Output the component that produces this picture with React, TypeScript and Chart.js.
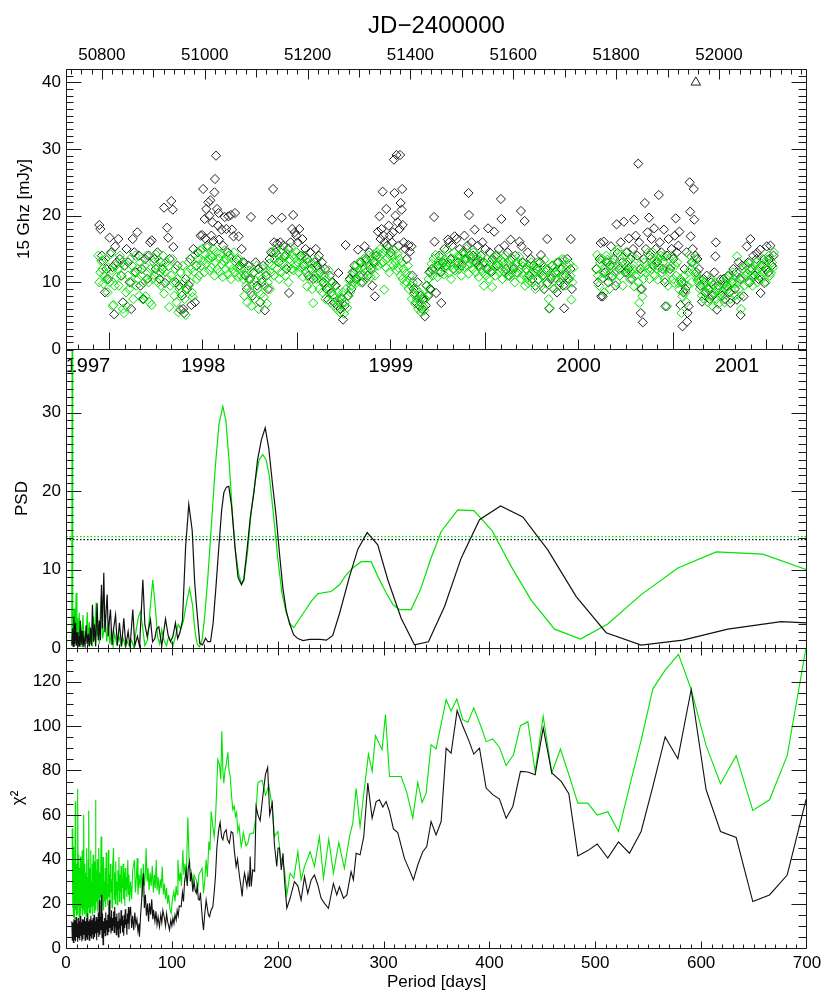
import React, { useEffect, useRef } from 'react';
import { Chart, registerables } from 'chart.js';
Chart.register(...registerables);

const FONT = "'Liberation Sans', Arial, Helvetica, sans-serif";
const GREEN = '#00e400';
const INK = '#1a1a1a';

// ---------- top panel: 15 GHz light curve ----------
const jdTickLabels = [50800, 51000, 51200, 51400, 51600, 51800, 52000];
const yearLabels = ['1997', '1998', '1999', '2000', '2001'];
const yearLabelJD = [50773, 50997, 51362, 51727, 52035];
const fluxTicks = [0, 10, 20, 30, 40];
const flagObs = [[51955, 40]];

const blackFluxObs = [
  [50795,18.6],[50797,18.0],[50800,14.0],[50803,13.2],[50806,8.5],[50809,12.0],[50812,10.5],[50815,16.7],[50818,14.5],[50821,12.3],[50824,5.2],[50826,15.4],[50829,13.0],
  [50832,16.5],[50835,13.5],[50838,11.0],[50841,7.0],[50844,12.5],[50848,15.0],[50851,13.0],[50854,10.0],[50857,6.0],[50860,16.5],[50863,14.5],[50866,11.5],[50869,17.5],[50872,14.0],[50875,9.5],[50878,12.0],[50881,7.5],[50884,13.5],[50888,10.5],[50891,14.0],[50894,16.0],[50897,16.3],
  [50902,13.5],[50905,12.0],[50908,14.5],[50912,10.5],[50915,13.0],[50918,12.0],[50921,21.2],[50923,9.9],[50927,18.2],[50929,16.7],[50932,13.5],[50935,22.2],[50938,20.9],[50939,15.3],[50944,10.0],[50947,12.5],[50950,9.5],[50953,5.9],[50956,8.0],[50958,6.0],[50960,5.4],[50963,10.5],[50966,9.0],[50969,9.6],[50972,13.5],[50974,6.6],[50978,15.0],[50981,7.0],[50984,12.5],[50987,14.5],
  [50992,17.0],[50995,17.1],[50997,24.0],[51000,19.5],[51001,16.6],[51003,21.0],[51005,15.5],[51007,22.0],[51009,20.0],[51011,22.3],[51013,17.0],[51015,19.0],[51017,16.2],[51019,23.5],[51020,25.5],[51022,29.0],[51024,21.0],[51026,18.5],[51027,20.4],[51028,16.4],[51033,17.9],[51036,15.5],[51039,19.8],[51042,18.0],[51045,14.5],[51046,19.9],[51051,20.1],[51053,17.9],[51056,16.9],[51059,20.4],[51062,13.5],[51066,16.9],[51069,12.5],[51072,15.0],
  [51076,13.0],[51079,11.0],[51082,9.0],[51085,12.5],[51088,10.5],[51090,19.8],[51093,8.0],[51096,11.5],[51099,13.0],[51102,9.5],[51105,12.0],[51108,7.0],[51111,10.0],[51114,12.5],[51117,5.8],[51120,11.0],[51123,9.0],[51126,13.5],[51129,14.5],
  [51131,19.4],[51133,24.0],[51135,16.0],[51138,14.5],[51141,15.8],[51144,13.0],[51147,16.0],[51150,19.7],[51153,15.5],[51156,14.0],[51159,12.0],[51162,15.0],[51164,8.4],[51167,16.0],[51170,18.0],[51172,20.1],[51175,17.5],[51178,17.0],[51181,16.0],[51184,18.0],[51187,14.0],[51190,16.5],[51193,12.5],[51196,15.0],[51199,13.5],[51202,11.0],[51205,14.5],[51208,12.0],[51211,10.5],[51214,13.0],
  [51216,15.0],[51219,12.5],[51222,14.0],[51225,11.5],[51228,13.0],[51231,10.0],[51234,12.0],[51237,9.0],[51240,7.4],[51243,11.0],[51246,8.5],[51249,10.0],[51252,7.0],[51255,9.5],[51258,6.5],[51260,11.4],[51264,6.0],[51267,7.5],[51269,4.4],[51272,6.5],[51274,15.6],[51279,8.0],[51282,10.5],[51285,9.0],[51288,11.5],
  [51291,12.5],[51294,10.5],[51298,14.9],[51301,11.0],[51304,13.0],[51307,10.0],[51311,15.4],[51314,13.5],[51317,11.0],[51320,14.5],[51323,12.0],[51326,9.5],[51329,13.0],[51331,7.9],[51334,14.0],[51337,17.6],[51340,19.9],[51342,16.5],[51344,18.0],[51346,23.6],[51348,17.0],[51350,16.0],[51353,21.0],[51355,15.5],[51358,18.5],[51360,17.0],[51362,14.5],[51364,16.0],
  [51366,17.5],[51368,28.4],[51369,23.4],[51371,20.0],[51373,29.1],[51375,19.0],[51377,15.5],[51379,18.0],[51380,29.1],[51381,21.9],[51383,20.9],[51384,24.0],[51385,18.6],[51387,16.0],[51390,15.0],[51393,13.5],[51396,15.6],[51399,14.6],[51402,15.4],[51404,11.0],[51406,9.0],[51408,8.4],[51411,7.0],[51414,10.0],[51417,6.5],[51420,8.0],[51423,6.0],[51425,7.5],[51428,4.9],[51430,6.5],[51432,9.5],[51435,8.0],[51437,11.5],[51439,9.0],
  [51442,12.0],[51446,19.8],[51447,16.1],[51450,8.4],[51453,12.5],[51456,14.0],[51459,11.5],[51460,6.9],[51463,13.0],[51466,15.0],[51469,12.5],[51473,16.4],[51475,16.0],[51478,13.5],[51481,15.5],[51484,12.0],[51486,16.9],[51490,16.5],[51493,13.0],[51496,15.0],[51499,12.5],[51502,14.5],[51505,17.0],[51508,13.5],[51511,15.5],[51513,23.4],[51514,20.1],[51516,14.0],[51519,16.0],
  [51522,14.0],[51525,17.9],[51528,13.0],[51531,15.5],[51534,12.5],[51537,14.0],[51540,16.0],[51543,13.0],[51546,15.0],[51549,12.0],[51551,18.1],[51554,14.5],[51557,11.5],[51560,13.5],[51563,17.6],[51566,14.0],[51569,12.5],[51572,15.0],[51576,22.5],[51577,19.5],[51580,13.0],[51583,15.5],[51586,12.0],[51589,14.5],[51592,11.0],[51595,16.4],[51598,13.5],[51601,12.0],[51604,14.0],[51607,11.5],
  [51612,16.1],[51615,20.7],[51616,15.4],[51619,13.0],[51622,19.2],[51625,12.0],[51628,14.5],[51631,11.0],[51634,13.5],[51637,10.5],[51640,12.5],[51643,9.5],[51646,12.0],[51649,10.5],[51652,13.0],[51654,14.1],[51657,11.0],[51660,9.0],[51663,12.0],[51666,16.5],[51667,9.9],[51670,6.1],[51673,10.5],[51676,12.5],[51679,9.0],[51682,11.5],[51685,8.5],[51688,13.0],[51691,10.0],[51694,12.0],[51697,9.5],[51699,6.1],[51702,11.0],[51705,13.5],[51708,10.5],[51711,12.0],[51712,16.5],[51714,9.0],
  [51762,12.0],[51765,10.0],[51768,13.5],[51770,15.9],[51771,7.9],[51774,7.9],[51776,16.1],[51779,11.5],[51782,13.0],[51785,10.0],[51788,12.5],[51790,15.4],[51793,11.0],[51796,13.5],[51799,9.5],[51801,18.7],[51803,14.4],[51806,12.0],[51809,16.0],[51812,13.0],[51815,19.1],[51818,11.5],[51821,14.5],[51824,12.0],[51825,16.6],[51828,13.5],[51831,10.5],[51833,15.0],[51835,19.4],[51838,17.0],
  [51841,14.0],[51843,27.8],[51845,16.0],[51847,12.0],[51848,5.4],[51850,9.0],[51852,4.0],[51854,13.5],[51856,21.9],[51858,15.0],[51861,17.5],[51864,19.7],[51866,14.0],[51869,16.5],[51872,12.5],[51874,18.1],[51877,15.0],[51880,13.0],[51883,23.1],[51885,16.0],[51888,14.5],[51891,12.0],[51893,17.9],[51895,10.0],[51896,6.4],[51899,14.0],[51902,16.5],[51905,12.0],[51908,15.0],[51911,13.5],[51914,17.0],[51916,19.6],[51918,14.5],
  [51921,15.5],[51923,17.6],[51925,6.6],[51927,10.0],[51929,3.4],[51931,8.5],[51933,12.0],[51935,9.0],[51937,14.5],[51938,4.1],[51939,5.4],[51941,6.4],[51943,25.0],[51944,20.6],[51945,16.9],[51947,13.0],[51949,15.0],[51951,24.0],[51952,19.4],[51954,14.0],[51956,11.5],[51958,13.5],
  [51961,12.0],[51964,9.5],[51967,7.1],[51970,10.5],[51973,8.5],[51976,11.0],[51979,9.0],[51982,7.5],[51985,10.0],[51988,8.0],[51991,11.5],[51993,13.9],[51994,16.0],[51996,5.9],[51999,9.5],[52003,10.4],[52006,8.0],[52009,10.5],[52012,7.5],[52015,9.5],[52018,11.0],[52021,8.5],[52022,6.9],[52025,10.0],[52028,12.0],[52031,9.0],[52034,11.5],[52035,7.4],[52038,13.0],[52041,10.5],[52042,5.1],[52045,12.5],[52048,7.9],[52051,11.0],[52054,15.4],[52057,13.0],[52060,10.0],[52061,16.5],[52064,12.0],[52067,14.0],[52070,11.0],[52073,13.5],[52074,14.4],[52077,10.5],[52080,14.9],[52081,8.4],[52084,12.5],[52087,13.4],[52088,9.9],[52091,12.0],[52093,15.4],[52096,11.5],[52098,13.5],[52100,15.5],[52103,12.5],[52106,14.0]
];

const greenFluxObs = [
  [50793,14.0],[50795,10.0],[50797,11.5],[50799,13.2],[50801,12.0],[50803,9.8],[50805,11.0],[50807,13.5],[50809,10.5],[50811,8.5],[50813,12.2],[50815,10.0],[50817,14.2],[50819,11.8],[50821,6.5],[50823,6.6],[50825,9.5],[50827,12.5],[50829,10.8],
  [50831,12.0],[50833,9.5],[50835,14.0],[50837,11.0],[50839,13.0],[50841,6.0],[50843,5.4],[50845,12.5],[50847,8.5],[50849,6.4],[50851,11.0],[50853,9.0],[50855,13.5],[50857,10.0],[50859,12.5],[50861,7.5],[50863,11.5],[50865,14.0],[50867,9.5],[50869,12.0],[50871,10.5],[50873,8.0],[50875,13.0],[50877,11.0],[50879,7.5],[50881,9.9],[50883,12.5],[50885,7.9],[50887,14.0],[50889,11.5],[50891,10.0],[50893,7.0],[50895,12.0],[50897,6.6],[50899,10.5],
  [50901,13.0],[50903,11.0],[50905,14.2],[50907,12.5],[50909,10.0],[50911,13.3],[50913,11.5],[50915,9.5],[50917,12.0],[50919,14.0],[50921,8.3],[50923,11.6],[50925,13.0],[50927,10.5],[50929,12.4],[50931,6.3],[50933,9.5],[50935,11.0],[50937,13.5],[50939,10.0],[50941,8.0],[50943,12.0],[50945,7.0],[50947,10.5],[50949,5.5],[50951,9.0],[50953,11.5],[50955,8.5],[50957,12.5],[50959,10.0],[50961,7.5],[50963,5.1],[50965,9.0],[50967,11.5],[50969,13.0],[50971,10.0],[50973,12.0],[50975,8.5],[50977,7.8],[50979,11.6],[50981,14.1],[50983,12.5],[50985,10.5],[50987,13.5],[50989,11.0],
  [50991,14.8],[50993,12.5],[50995,15.0],[50997,13.2],[50999,11.5],[51001,14.2],[51003,12.8],[51005,15.2],[51007,13.5],[51009,11.8],[51011,14.0],[51013,12.2],[51015,13.8],[51017,15.0],[51019,11.0],[51021,13.0],[51023,14.5],[51025,12.0],[51027,13.6],[51029,11.5],[51031,14.3],[51033,12.7],[51035,10.8],[51037,13.2],[51039,14.8],[51041,12.0],[51043,13.5],[51045,11.2],[51047,14.0],[51049,12.5],[51051,10.5],[51053,13.8],[51055,12.0],[51057,14.5],[51059,11.5],[51061,13.0],[51063,12.2],[51065,10.8],[51067,13.5],[51069,12.0],[51071,11.0],[51073,13.0],
  [51075,10.5],[51077,8.0],[51079,12.0],[51081,9.5],[51083,7.0],[51085,10.5],[51087,11.8],[51089,8.5],[51091,6.5],[51093,9.8],[51095,11.5],[51097,7.5],[51099,10.2],[51101,12.5],[51103,9.0],[51105,6.0],[51107,11.0],[51109,8.2],[51111,10.5],[51113,12.0],[51115,7.8],[51117,9.5],[51119,11.5],[51121,6.8],[51123,10.0],[51125,12.8],[51127,9.0],[51129,11.5],
  [51131,12.5],[51133,14.5],[51135,11.0],[51137,13.5],[51139,15.0],[51141,12.0],[51143,14.0],[51145,10.5],[51147,13.2],[51149,11.5],[51151,14.8],[51153,12.8],[51155,13.8],[51157,11.0],[51159,14.2],[51161,12.4],[51163,10.0],[51165,13.5],[51167,15.2],[51169,12.0],[51171,14.0],[51173,11.8],[51175,13.6],[51177,12.5],[51179,14.5],[51181,13.0],[51183,11.5],[51185,14.0],[51187,12.2],[51189,13.5],[51191,10.8],[51193,12.8],[51195,14.0],[51197,11.5],[51199,9.4],[51201,13.0],[51203,12.0],[51205,10.5],[51207,12.8],[51209,9.0],[51211,6.9],[51213,11.0],
  [51215,12.3],[51217,10.5],[51219,13.5],[51221,11.3],[51223,9.0],[51225,12.0],[51227,10.2],[51229,8.5],[51231,11.0],[51233,9.8],[51235,7.5],[51237,10.5],[51239,8.8],[51241,11.8],[51243,9.1],[51245,7.0],[51247,10.0],[51249,8.0],[51251,6.5],[51253,9.5],[51255,7.8],[51257,6.0],[51259,8.5],[51261,7.2],[51263,5.5],[51265,7.8],[51267,6.8],[51269,8.5],[51271,5.3],[51273,7.0],[51275,9.0],[51277,6.2],[51279,7.9],[51281,10.3],[51283,8.5],[51285,9.5],[51287,11.0],[51289,10.0],
  [51291,11.5],[51293,9.8],[51295,12.5],[51297,10.5],[51299,11.8],[51301,13.0],[51303,10.0],[51305,12.2],[51307,11.0],[51309,13.5],[51311,12.0],[51313,10.5],[51315,13.2],[51317,11.8],[51319,14.0],[51321,12.5],[51323,10.8],[51325,13.5],[51327,12.0],[51329,14.2],[51331,11.0],[51333,13.0],[51335,14.5],[51337,12.5],[51339,13.8],[51341,15.0],[51343,12.8],[51345,14.3],[51347,13.0],[51349,8.9],[51351,14.8],[51353,12.2],[51355,13.6],[51357,15.2],[51359,11.5],[51361,14.0],[51363,12.8],
  [51365,14.0],[51367,12.5],[51369,14.8],[51371,13.0],[51373,11.8],[51375,14.3],[51377,12.2],[51379,13.5],[51381,11.0],[51383,13.0],[51385,10.5],[51387,12.0],[51389,9.8],[51391,11.3],[51393,10.0],[51395,12.5],[51397,9.0],[51399,11.0],[51401,9.5],[51403,7.5],[51405,10.0],[51407,8.2],[51409,6.8],[51411,9.0],[51413,7.5],[51415,6.0],[51417,8.5],[51419,7.0],[51421,5.5],[51423,7.8],[51425,6.3],[51427,5.8],[51429,7.5],[51431,9.5],[51433,8.0],[51435,10.5],[51437,9.0],[51439,11.5],
  [51441,12.8],[51443,11.0],[51445,13.5],[51447,12.0],[51449,14.1],[51451,12.5],[51453,10.8],[51455,13.2],[51457,11.5],[51459,12.4],[51461,14.0],[51463,12.8],[51465,11.2],[51467,13.4],[51469,12.5],[51471,14.9],[51473,13.0],[51475,11.4],[51477,12.8],[51479,10.5],[51481,13.5],[51483,12.0],[51485,14.5],[51487,11.8],[51489,13.2],[51491,12.5],[51493,14.0],[51495,12.0],[51497,13.8],[51499,11.0],[51501,13.0],[51503,14.2],[51505,12.3],[51507,13.6],[51509,15.0],[51511,12.5],[51513,11.3],[51515,14.0],[51517,12.8],[51519,13.5],
  [51521,12.0],[51523,14.5],[51525,13.0],[51527,11.5],[51529,14.0],[51531,12.5],[51533,10.8],[51535,13.3],[51537,12.0],[51539,14.2],[51541,11.5],[51543,9.5],[51545,12.8],[51547,11.0],[51549,13.5],[51551,12.0],[51553,10.5],[51555,13.0],[51557,11.8],[51559,9.3],[51561,12.5],[51563,13.8],[51565,11.0],[51567,12.4],[51569,14.0],[51571,12.8],[51573,11.5],[51575,13.4],[51577,12.0],[51579,10.5],[51581,13.0],[51583,11.5],[51585,14.0],[51587,12.5],[51589,11.0],[51591,13.2],[51593,12.0],[51595,10.8],[51597,11.4],[51599,13.5],[51601,12.2],[51603,10.0],[51605,12.8],[51607,11.5],[51609,13.0],
  [51611,13.9],[51613,12.0],[51615,10.5],[51617,13.0],[51619,12.4],[51621,11.0],[51623,9.5],[51625,12.0],[51627,10.8],[51629,9.9],[51631,12.5],[51633,11.0],[51635,13.0],[51637,10.0],[51639,12.4],[51641,11.5],[51643,9.0],[51645,11.8],[51647,13.0],[51649,10.5],[51651,12.0],[51653,11.4],[51655,9.5],[51657,12.5],[51659,10.8],[51661,13.4],[51663,11.5],[51665,9.8],[51667,12.0],[51669,7.5],[51671,6.1],[51673,10.9],[51675,12.5],[51677,11.0],[51679,9.0],[51681,12.2],[51683,10.5],[51685,13.0],[51687,11.5],[51689,9.5],[51691,12.0],[51693,10.8],[51695,13.5],[51697,11.0],[51699,13.4],[51701,9.5],[51703,11.9],[51705,12.5],[51707,10.4],[51709,12.8],[51711,11.0],[51713,7.4],[51715,10.0],[51717,12.2],
  [51761,12.0],[51763,14.1],[51765,11.0],[51767,9.5],[51769,12.9],[51771,10.5],[51773,13.5],[51775,11.4],[51777,8.5],[51779,12.0],[51781,14.0],[51783,13.4],[51785,11.0],[51787,9.0],[51789,12.5],[51791,10.8],[51793,13.0],[51795,12.4],[51797,14.5],[51799,11.5],[51801,10.0],[51803,14.9],[51805,12.5],[51807,11.0],[51809,13.5],[51811,12.0],[51813,9.5],[51815,13.9],[51817,12.0],[51819,14.5],[51821,11.5],[51823,13.0],[51825,12.2],[51827,10.5],[51829,11.4],[51831,13.8],[51833,12.0],[51835,9.4],[51837,11.0],[51839,13.5],
  [51841,12.0],[51843,10.0],[51845,6.9],[51847,9.0],[51849,11.5],[51851,7.9],[51853,10.5],[51855,13.0],[51857,11.5],[51859,12.5],[51861,14.4],[51863,12.0],[51865,10.5],[51867,13.5],[51869,12.0],[51871,14.5],[51873,13.4],[51875,11.0],[51877,13.0],[51879,12.0],[51881,10.4],[51883,13.5],[51885,12.2],[51887,14.0],[51889,11.5],[51891,13.0],[51893,13.9],[51895,10.5],[51897,12.0],[51899,6.4],[51901,9.5],[51903,13.5],[51905,11.5],[51907,12.4],[51909,14.0],[51911,10.5],[51913,9.9],[51915,12.5],[51917,11.0],[51919,13.0],
  [51921,9.9],[51923,8.9],[51925,10.5],[51927,5.4],[51929,7.9],[51931,9.9],[51933,11.0],[51935,8.5],[51937,7.0],[51939,9.5],[51941,11.5],[51943,14.1],[51945,12.0],[51947,10.0],[51949,13.0],[51951,11.5],[51953,12.8],[51955,13.5],[51957,11.0],[51959,10.2],
  [51961,10.5],[51963,9.0],[51965,10.4],[51967,8.0],[51969,9.5],[51971,7.5],[51973,10.0],[51975,8.5],[51977,9.4],[51979,7.0],[51981,9.0],[51983,10.5],[51985,8.0],[51987,6.5],[51989,9.5],[51991,8.4],[51993,10.0],[51995,7.5],[51997,9.0],[51999,6.8],[52001,8.5],[52003,7.9],[52005,10.0],[52007,8.5],[52009,9.8],[52011,7.0],[52013,9.0],[52015,10.5],[52017,8.9],[52019,11.0],[52021,9.5],[52023,7.5],[52025,10.0],[52027,11.5],[52029,9.9],[52031,8.0],[52033,11.0],[52035,13.9],[52037,10.0],[52039,9.0],[52041,7.9],[52043,6.0],[52045,10.5],[52047,12.0],[52049,9.5],[52051,11.0],[52053,12.5],[52055,11.4],[52057,10.0],[52059,12.0],[52061,13.0],[52063,11.0],[52065,9.5],[52067,10.9],[52069,12.5],[52071,11.5],[52073,13.0],[52075,10.0],[52077,12.0],[52079,11.0],[52081,12.4],[52083,10.5],[52085,13.5],[52087,11.5],[52089,12.8],[52091,10.0],[52093,13.4],[52095,12.0],[52097,14.0],[52099,11.0],[52101,11.4],[52103,13.0],[52105,12.2],[52107,14.5]
];

// ---------- middle panel: PSD vs period ----------
const psdTicks = [0, 10, 20, 30];
const psdSigBlack = 13.8;
const psdSigGreen = 14.2;
const psdBlack = [
  [5.5,0.3],[6.2,2.5],[6.8,0.2],[7.5,4.0],[8.2,0.5],[9.0,3.2],[9.7,0.3],[10.5,2.0],[11.3,0.1],[12.0,1.5],[12.8,0.2],[13.5,3.5],[14.3,0.4],[15.2,2.2],[16,0.1],[17,1.2],[18,0.3],[19,2.9],[20,0.5],[21,1.8],[22,0.2],[23,2.6],[24,0.3],[25,5.5],[26,0.8],[27,3.0],[28,0.2],[29.4,5.7],[30.5,1.0],[31.5,3.5],[32.5,1.0],[33.5,8.05],[34.5,2.5],[35.7,9.6],[36.8,2.0],[38,5.0],[38.9,6.8],[40,1.5],[41,3.5],[42,4.9],[43.5,0.4],[45,2.5],[46.8,4.2],[48.5,0.3],[50.5,3.2],[52.5,0.2],[54.6,3.8],[56.5,0.3],[58.7,2.1],[60.5,0.1],[63.1,4.9],[65,0.3],[67.5,1.5],[69.5,0.2],[72.6,8.7],[74.5,3.0],[76.7,1.45],[79.8,3.6],[81.8,0.8],[83.9,1.2],[85.5,2.4],[87.7,2.7],[90.5,0.3],[94,3.7],[96.5,1.6],[98.7,0.8],[101,1.5],[103.4,3.2],[105.5,1.2],[107.5,1.9],[110,3.5],[113,12.9],[116,18.3],[119.2,15],[121.5,8.5],[123.3,5.3],[126.4,0.6],[129,0.4],[131.8,1.25],[134,0.8],[136.5,0.8],[139,3.2],[141.5,7.5],[144.4,12.9],[147,17.5],[149.1,19.8],[151.5,20.5],[153.8,20.6],[156.5,18.0],[159.5,13.0],[162.5,9.0],[165.8,8.05],[168,8.8],[171,12.5],[174,16.5],[177.5,19.8],[181,24],[184.5,26.5],[188.2,28.05],[191.5,25.5],[195,21.0],[198.5,16.8],[201.7,12],[205,7.5],[208,4.8],[211.1,3.15],[215,1.7],[219,1.2],[224,0.95],[230,1.1],[240,1.1],[246,1.0],[252,1.6],[258.4,4.4],[267.8,9.1],[275.7,12.6],[284.5,14.7],[294.5,13.15],[304,8.7],[316.6,3.8],[329.2,0.4],[342.4,0.8],[357.6,5.3],[373.3,11.45],[390.6,16.35],[410.5,18.1],[431.5,16.7],[455.1,12.5],[482,6.55],[510.3,1.95],[543.4,0.38],[582.7,1.0],[625.2,2.4],[675.6,3.35],[699.2,3.2]
];
const psdGreen = [
  [5.5,0.5],[5.85,45],[6.1,1.0],[6.5,3.5],[7.0,0.3],[7.6,5.0],[8.2,0.2],[8.8,2.5],[9.6,7.0],[10.3,0.5],[11,3.8],[11.8,0.3],[12.5,4.5],[13.3,0.2],[14,3.0],[15,0.6],[16,4.2],[17,0.2],[18,2.2],[19,0.8],[20,4.6],[21,0.3],[22,3.3],[23,0.5],[24,2.5],[25,0.2],[26,4.0],[27,1.0],[28.5,5.8],[29.5,1.5],[30.5,3.0],[31.5,0.5],[32.5,4.5],[33.2,6.6],[34.5,1.2],[35.5,2.0],[37,4.0],[38.5,0.8],[40,3.0],[41.5,0.5],[43,2.5],[44.5,0.2],[46,1.8],[48,0.5],[50,1.5],[52,0.3],[54,1.2],[56,0.2],[58,0.8],[60,0.2],[62,1.0],[64,0.1],[66.5,2.5],[68.5,4.0],[70.4,4.65],[72.5,2.5],[74.5,0.3],[77,1.0],[79.5,5.0],[82,8.7],[84.5,5.0],[86.5,1.5],[88.5,0.5],[90.5,2.3],[92.5,1.0],[95,0.3],[97,1.5],[99,0.8],[101,0.3],[103.5,1.5],[106,3.0],[108.5,2.4],[111,3.5],[113.5,5.5],[116.7,7.6],[119.5,5.5],[122,2.0],[124,0.5],[126,0.15],[128.5,1.0],[131,4.0],[134,9.0],[137.5,16],[141,23],[144.5,28.5],[148.1,30.8],[151,29],[154,24],[157,17.5],[160,12.5],[163,9.5],[165.8,8.2],[168,8.5],[171.7,12.5],[175,17.5],[179,21.5],[182.5,24],[185.9,24.65],[189,24.0],[192,22],[196,17],[200,11.5],[204,7.0],[208,4.5],[212,3.0],[215.2,2.6],[220,3.6],[225.3,4.65],[232,6.0],[237.9,6.9],[245,7.1],[250.5,7.2],[258.4,8.05],[264,9.2],[270.9,10.2],[278.9,11.0],[288.3,11.0],[295,9.0],[302.5,7.0],[309,5.5],[315,4.9],[326,4.9],[335,7.5],[345,11.5],[354.4,14.85],[370.1,17.6],[385.3,17.5],[402.3,15],[420.5,10.4],[439.4,6.1],[461.5,2.4],[486,1.15],[511.8,3.05],[543.4,6.8],[578,10.2],[614.2,12.25],[658.2,11.95],[699.2,10.0]
];

// ---------- bottom panel: chi^2 vs period ----------
const periodTicks = [0, 100, 200, 300, 400, 500, 600, 700];
const chiTicks = [0, 20, 40, 60, 80, 100, 120];
const chiBlack = [
  [5.5,12.0],[6.0,3.5],[6.5,11.5],[7.0,2.5],[7.5,13.0],[8.0,4.0],[8.5,12.5],[9.0,3.0],[9.5,14.0],[10.0,5.0],[10.5,11.0],[11.0,2.8],[11.5,13.5],[12.0,4.5],[12.5,12.0],[13.0,3.5],[13.5,14.5],[14.0,5.5],[14.5,11.5],[15.0,3.0],[15.5,13.0],[16.0,4.0],[16.5,12.5],[17.0,6.0],[17.5,14.0],[18.0,3.5],[18.5,12.0],[19.0,5.0],[19.5,13.5],[20.0,4.0],[20.5,15.5],[21.0,6.0],[21.5,12.0],[22.0,3.5],[22.5,13.0],[23.0,5.5],[23.5,14.5],[24.0,4.5],[24.5,12.5],[25.0,6.5],[25.5,13.5],[26.0,4.0],[26.5,15.0],[27.0,5.0],[27.5,12.0],[28.0,6.5],[28.5,14.0],[29.0,3.5],[29.5,13.0],[30.0,7.0],[30.5,16.0],[31.0,5.0],[31.5,21.5],[32.0,6.0],[32.5,14.0],[33.0,8.0],[33.5,24.0],[34.0,4.5],[34.5,15.5],[35.0,1.5],[35.5,12.0],[36.0,7.0],[36.5,13.5],[37.0,5.5],[37.5,16.0],[38.0,8.5],[38.5,12.5],[39.0,6.0],[39.5,15.0],[40.0,7.5],[40.5,18.0],[41.0,21.5],[41.5,9.0],[42.0,14.0],[42.5,6.5],[43.0,17.0],[43.5,8.0],[44.0,13.5],[44.5,10.0],[45.0,16.5],[45.5,7.0],[46.0,18.5],[46.5,9.5],[47.0,14.0],[47.5,6.0],[48.0,15.5],[48.5,8.5],[49.0,12.0],[49.5,5.0],[50.0,16.0],[50.5,9.0],[51.0,13.0],[51.5,6.5],[52.0,17.0],[52.5,10.0],[53.0,14.5],[53.5,7.0],[54.0,12.5],[54.5,5.5],[55.0,15.0],[55.5,9.0],[56.0,17.5],[56.5,10.5],[57.0,13.0],[57.5,6.0],[58.0,15.5],[58.5,11.0],[59.0,18.5],[59.5,8.5],[60.0,14.0],
  [61,18.6],[62,9.0],[63,14.5],[64,8.0],[65,16.0],[66,10.5],[67,13.0],[68,7.5],[69,11.0],[69.4,5.1],[70.5,15.0],[71.5,22.0],[72.5,30.0],[73.2,33.7],[74,18.0],[75,24.0],[76,14.5],[77,20.0],[78,12.0],[78.9,20.2],[80,15.0],[81,22.0],[82,13.0],[82.7,17.2],[84,12.0],[85,16.5],[86,10.5],[87,14.0],[88.3,9.6],[89.5,15.0],[90.5,11.5],[91.5,17.0],[93,13.4],[94,10.0],[95,15.5],[96,12.0],[97.8,8.1],[99,12.5],[100,10.0],[101,13.5],[102,11.0],[103,15.0],[104.1,12.6],[105,17.0],[106,14.5],[107,19.0],[108.8,18.6],[110,25.0],[111,21.0],[112,30.0],[113.5,35.2],[114.5,28.0],[115.5,36.0],[116.7,39.0],[117.5,30.0],[118.5,34.0],[119.8,25.4],[121,30.0],[122,26.0],[123,24.7],[124,28.0],[125,22.0],[126.1,21.6],[127,25.0],[128,18.0],[129,12.0],[129.9,8.1],[131,15.0],[132.4,21.6],[133.5,18.0],[134.5,15.0],[135.6,14.1],[137,17.0],[138.7,18.6],[140,25.0],[141.2,32.2],[142.5,45.0],[143.4,49.5],[144.5,54.0],[145.6,56.6],[147,50.0],[148.2,48.8],[149.5,52.0],[151.3,53.3],[152.5,49.0],[154.4,47.2],[156,52.5],[157.6,51.8],[159,44.0],[160.7,36.7],[162,40.0],[163.9,32.2],[165.2,28.0],[166.4,23.2],[167.5,30.0],[168.7,33.7],[170,30.0],[170.9,27.7],[172,33.0],[173.3,27.6],[174,41.2],[175,27.7],[176.4,35.2],[178.2,34.5],[179.6,63.8],[181.3,60.0],[183.4,57.4],[185.9,68.3],[188.4,78.1],[190.5,81.4],[192.4,60.0],[194.9,65.3],[196.9,46.5],[199.1,36.7],[200.3,45.0],[201.6,45.0],[203.4,35.2],[205,42.7],[206.4,30.7],[208.6,17.9],[211.7,22.4],[215.8,29.9],[219,28.0],[222.1,21.6],[225.3,32.2],[228.4,24.6],[231.6,30.7],[234.7,32.9],[237.9,28.4],[241,22.4],[244.2,20.1],[247.9,17.9],[252.6,29.1],[255.8,23.9],[258.3,27.6],[262.1,22.4],[265.3,23.9],[269.3,34.4],[271.5,30.7],[274.1,42.7],[277.8,42.0],[281.3,50.2],[285.1,74.3],[289.2,58.5],[293,66.0],[296.1,66.8],[299.3,63.5],[302.4,66.0],[305.6,61.5],[309.3,53.7],[313.4,52.0],[319.7,40.4],[324.4,35.2],[328.2,30.7],[332.3,37.4],[337,43.4],[340.8,45.7],[344.9,57.0],[349.6,51.0],[354.4,57.0],[359.1,90.0],[363.8,87.8],[369.5,107.0],[374.9,99.9],[380.2,93.9],[385.2,87.4],[390.6,90.1],[396.9,72.1],[403.2,69.1],[409.5,67.1],[415.8,58.5],[422.1,63.8],[429.3,79.6],[436.3,79.3],[443.2,78.1],[450.8,99.2],[458.9,78.9],[467.8,75.1],[475,69.5],[483.5,41.5],[492.9,43.9],[501.8,46.9],[511.8,40.5],[521.9,47.8],[532.3,42.7],[543.3,52.5],[554.4,72.8],[566,95.1],[578,85.3],[590.6,116.5],[604.7,71.3],[618.3,52.5],[633.1,49.8],[648.8,20.9],[664.6,23.9],[681.3,32.9],[699.2,67.1]
];
const chiGreen = [
  [5.8,54.0],[6.2,18.0],[6.6,40.0],[7.0,14.0],[7.3,45.7],[7.7,16.0],[8.0,35.0],[8.4,13.0],[8.8,66.0],[9.2,17.0],[9.6,38.0],[10.0,14.5],[10.4,30.0],[10.8,15.0],[11.2,71.6],[11.6,19.0],[12.0,42.0],[12.4,14.0],[12.8,36.0],[13.2,16.5],[13.7,41.2],[14.1,15.0],[14.5,33.0],[14.9,18.0],[15.3,44.0],[15.7,14.5],[16.1,30.0],[16.5,17.0],[16.9,60.0],[17.3,15.5],[17.7,38.0],[18.1,19.0],[18.5,34.0],[18.9,14.0],[19.3,45.0],[19.7,17.5],[20.1,32.0],[20.5,15.0],[20.9,40.0],[21.3,18.0],[21.6,62.0],[22.0,16.0],[22.4,36.0],[22.8,20.0],[23.2,44.0],[23.6,15.5],[24.0,30.0],[24.4,18.5],[24.8,38.0],[25.2,14.5],[25.6,42.0],[26.0,19.0],[26.4,33.0],[26.8,16.0],[27.2,39.0],[27.6,20.0],[27.9,66.8],[28.3,17.0],[28.7,35.0],[29.1,21.0],[29.5,40.0],[29.9,16.5],[30.3,31.0],[30.7,22.0],[31.1,45.0],[31.5,18.0],[31.9,34.0],[32.3,23.0],[32.8,37.0],[33.2,50.3],[33.6,19.0],[34.0,32.0],[34.5,24.0],[35.0,41.0],[35.5,17.0],[36.0,30.0],[36.5,21.0],[37.0,36.0],[37.5,18.5],[38.0,43.0],[38.5,22.0],[39.0,29.0],[39.5,19.0],[40.0,44.2],[40.5,23.0],[41.0,33.0],[41.5,20.0],[42.0,38.0],[42.5,25.0],[43.0,31.0],[43.5,18.0],[44.0,36.0],[44.9,45.0],[45.5,22.0],[46.0,34.0],[46.5,20.0],[47.0,39.0],[47.5,24.0],[48.0,30.0],[48.5,19.5],[49.0,35.0],[49.5,26.0],[50.0,41.0],[50.5,21.0],[51.0,33.0],[51.5,25.0],[52.0,37.0],[52.5,20.0],[53.0,31.0],[53.5,27.0],[54.0,38.0],[54.5,22.0],[55.0,34.0],[55.5,19.0],[56.0,36.0],[56.5,26.0],[57.0,32.0],[57.5,23.0],[58.4,39.7],[59.0,24.0],[59.5,33.0],[60.0,21.0],
  [61,30.0],[62,22.0],[63,35.0],[64.7,39.7],[65.5,25.0],[66.5,32.0],[67.2,40.5],[68,24.0],[69,33.0],[70,27.0],[71,36.0],[72,23.0],[73,38.0],[74,28.0],[75,34.0],[75.7,45.0],[76.7,30.0],[77.5,36.0],[78.5,26.0],[79.5,34.0],[80.5,28.0],[81.5,37.0],[82.5,25.0],[83.5,33.0],[84.3,27.0],[85.2,39.7],[86,26.0],[87,32.0],[88,24.0],[89,31.0],[90,27.0],[90.9,36.7],[92,24.0],[93,29.0],[94,22.0],[95,27.0],[96,20.0],[97,24.0],[98,18.0],[99.3,15.6],[100.5,22.0],[101.9,25.4],[103,21.0],[104,28.0],[105,24.0],[105.7,39.7],[107,30.0],[108,34.0],[109,28.0],[110.4,44.2],[111.3,33.0],[112.5,38.0],[113.5,30.0],[115.1,58.8],[116.5,36.0],[118.2,35.2],[119.5,28.0],[121,33.0],[123,30.7],[124.5,26.0],[125.5,33.0],[127.7,35.2],[128.6,36.0],[129.9,24.7],[131,30.0],[132.4,39.7],[133.5,32.0],[135,48.0],[136,44.0],[137.1,61.6],[138.7,54.8],[140,50.0],[141.2,57.8],[142.2,70.0],[143.4,84.9],[145,82.6],[146.2,76.0],[147.2,97.7],[148.2,80.0],[149.1,74.3],[150.2,80.0],[151.3,82.6],[152.9,88.2],[154,80.0],[155.1,77.3],[156.5,68.0],[157.6,62.3],[158.9,64.0],[160.1,59.3],[161.2,61.0],[162.3,52.5],[163.5,55.0],[164.5,50.0],[165.5,45.7],[166.5,48.0],[167.5,52.0],[168.6,49.5],[170,46.0],[171.8,47.2],[173.3,51.0],[174.9,51.8],[177.1,51.7],[179,58.0],[181.2,74.3],[183,75.0],[185.3,75.5],[188.4,69.0],[189.5,70.0],[191.6,73.5],[194.7,63.8],[196.9,50.2],[200.1,52.5],[202.6,41.2],[204.8,38.2],[206.5,35.0],[208.6,23.9],[211.7,33.7],[215.2,31.4],[219,43.4],[222.1,30.7],[225.3,36.7],[230.6,43.4],[234.7,36.7],[239.4,50.2],[243.2,31.4],[248.2,49.0],[252.6,33.7],[257.7,47.5],[263,35.9],[267.8,50.2],[270.9,56.2],[274.1,72.0],[277.8,54.7],[281,68.3],[285.7,87.4],[289.2,79.6],[292.3,95.7],[298.6,89.4],[301.8,105.2],[305.6,77.3],[316.6,77.3],[322,70.0],[327.6,58.5],[332.3,74.6],[336.4,65.6],[340.2,69.8],[344.9,91.6],[349.6,89.7],[359.1,111.9],[363.8,106.7],[369.2,112.2],[374.8,102.9],[379.6,101.7],[385.2,108.2],[392.2,99.6],[396.9,93.0],[403.2,94.2],[409.5,90.4],[415.8,82.2],[422.7,87.1],[429.3,100.2],[436.3,102.0],[443.2,79.6],[450.8,104.4],[458.9,78.9],[467.1,89.7],[475.6,77.3],[483.5,65.3],[492.9,65.3],[501.8,59.9],[511.8,61.4],[521.9,52.5],[533.9,75.8],[543.3,93.6],[554.4,116.8],[566,125.2],[578.6,132.3],[590.6,116.5],[604.7,91.2],[618.3,74.0],[633.1,86.7],[648.8,62.0],[664.6,66.8],[681.3,86.7],[699.2,135.7]
];

// ---------- helpers ----------
const pts = (arr: number[][]) => arr.map(([x, y]) => ({ x, y }));
const range = (a: number, b: number, s: number) => { const o: number[] = []; for (let v = a; v <= b + 1e-9; v += s) o.push(v); return o; };
const monthJD = (y: number, m: number) => Date.UTC(y, m, 1) / 86400000 + 40587.5;

type TickSpec = { scale: string; side: 'top' | 'bottom' | 'left' | 'right'; values: number[]; len: (v: number) => number };

// IDL-style frame with inward ticks; specs are captured in a closure (not in chart options)
const makeFrame = (specs: TickSpec[]) => ({
  id: 'idlFrame',
  afterDraw(chart: any) {
    const { ctx, chartArea: a } = chart;
    const L = Math.floor(a.left) + 0.5, R = Math.floor(a.right) - 0.5;
    const T = Math.floor(a.top) + 0.5, B = Math.floor(a.bottom) + 0.5;
    ctx.save();
    ctx.strokeStyle = INK;
    ctx.lineWidth = 1;
    ctx.beginPath();
    ctx.rect(L, T, R - L, B - T);
    for (const sp of specs) {
      const s = chart.scales[sp.scale];
      for (const v of sp.values) {
        const len = sp.len(v);
        if (sp.side === 'top' || sp.side === 'bottom') {
          const p = Math.round(s.getPixelForValue(v)) + 0.5;
          if (p < L || p > R) continue;
          const y0 = sp.side === 'top' ? T : B;
          ctx.moveTo(p, y0); ctx.lineTo(p, y0 + (sp.side === 'top' ? len : -len));
        } else {
          const q = Math.round(s.getPixelForValue(v)) + 0.5;
          if (q < T - 1 || q > B + 1) continue;
          const x0 = sp.side === 'left' ? L : R;
          ctx.moveTo(x0, q); ctx.lineTo(x0 + (sp.side === 'left' ? len : -len), q);
        }
      }
    }
    ctx.stroke();
    ctx.restore();
  }
});

const tickFont = { family: FONT, size: 17 };
const yAxis = (min: number, max: number, ticks: number[], title: string, tpad: number) => ({
  type: 'linear', position: 'left', min, max,
  afterFit: (s: any) => { s.width = 66; },
  afterBuildTicks: (s: any) => { s.ticks = ticks.map(v => ({ value: v })); },
  grid: { display: false, drawTicks: false }, border: { display: false },
  ticks: { font: tickFont, color: '#000', padding: 5, callback: (v: any) => String(v) },
  title: { display: true, text: title, font: { family: FONT, size: 17 }, color: '#000', padding: { top: tpad, bottom: 0 } }
});

const baseOpts = (padding: any) => ({
  animation: false, responsive: false, events: [] as any[],
  layout: { padding },
  plugins: { legend: { display: false }, tooltip: { enabled: false } }
});

const yTickSpecs = (max: number, minor: number, major: number): TickSpec[] => {
  const vals = range(0, max, minor);
  const isMajor = (v: number) => Math.abs(v % major) < 1e-6;
  return [
    { scale: 'y', side: 'left', values: vals, len: v => (isMajor(v) ? 15 : 7) },
    { scale: 'y', side: 'right', values: vals, len: v => (isMajor(v) ? 15 : 8) }
  ];
};
const periodTickVals = range(0, 700, 10);
const periodLen = (v: number) => (v % 100 === 0 ? 7 : 4);

function topConfig(): any {
  const jdMin = 50730.3, jdMax = 52171.2;
  const monthVals: number[] = []; const monthLen = new Map<number, number>();
  for (let y = 1996; y <= 2001; y++) for (let m = 0; m < 12; m++) {
    const v = monthJD(y, m); monthVals.push(v); monthLen.set(v, m === 0 ? 17 : m === 6 ? 10 : 5);
  }
  const specs: TickSpec[] = [
    { scale: 'x', side: 'top', values: range(50740, 52160, 20), len: v => (v % 200 === 0 ? 10 : v % 100 === 0 ? 8 : 5) },
    { scale: 'xYear', side: 'bottom', values: monthVals, len: v => monthLen.get(v) || 5 },
    ...yTickSpecs(42, 1, 10)
  ];
  return {
    type: 'scatter',
    data: {
      datasets: [
        { data: pts(greenFluxObs), pointStyle: 'rectRot', pointRadius: 4.6, borderColor: GREEN, backgroundColor: 'rgba(0,0,0,0)', pointBorderWidth: 1, order: 0 },
        { data: pts(blackFluxObs), pointStyle: 'rectRot', pointRadius: 4.6, borderColor: '#222', backgroundColor: 'rgba(0,0,0,0)', pointBorderWidth: 1, order: 1 },
        { data: pts(flagObs), pointStyle: 'triangle', pointRadius: 5.5, borderColor: '#222', backgroundColor: 'rgba(0,0,0,0)', pointBorderWidth: 1, order: 0 }
      ]
    },
    options: {
      ...baseOpts({ left: 0, right: 23, top: 0, bottom: 998 - 349 - 40 }),
      scales: {
        x: {
          type: 'linear', position: 'top', min: jdMin, max: jdMax,
          afterFit: (s: any) => { s.height = 69; },
          afterBuildTicks: (s: any) => { s.ticks = jdTickLabels.map(v => ({ value: v })); },
          grid: { display: false, drawTicks: false }, border: { display: false },
          ticks: { font: tickFont, color: '#000', padding: 3, autoSkip: false, maxRotation: 0, minRotation: 0, callback: (v: any) => String(v) },
          title: { display: true, text: 'JD−2400000', font: { family: FONT, size: 24 }, color: '#000', padding: { top: 12, bottom: 0 } }
        },
        xYear: {
          axis: 'x', type: 'linear', position: 'bottom', min: jdMin, max: jdMax,
          afterFit: (s: any) => { s.height = 40; },
          afterBuildTicks: (s: any) => { s.ticks = yearLabelJD.map(v => ({ value: v })); },
          grid: { display: false, drawTicks: false }, border: { display: false },
          ticks: { font: { family: FONT, size: 20 }, color: '#000', padding: 5, autoSkip: false, maxRotation: 0, minRotation: 0, callback: (_v: any, i: number) => yearLabels[i] }
        },
        y: yAxis(0, 42, fluxTicks, '15 Ghz [mJy]', 14)
      }
    },
    plugins: [makeFrame(specs)]
  };
}

function psdConfig(): any {
  const line = (arr: number[][], color: string, order: number, dash?: number[]) => ({
    data: pts(arr), showLine: true, pointRadius: 0, borderColor: color, borderWidth: 1.2, borderDash: dash || [], order
  });
  const specs: TickSpec[] = [
    { scale: 'x', side: 'bottom', values: periodTickVals, len: periodLen },
    ...yTickSpecs(38, 1, 10)
  ];
  return {
    type: 'scatter',
    data: {
      datasets: [
        line(psdBlack, '#111', 0),
        line(psdGreen, GREEN, 1),
        line([[0, psdSigBlack], [700, psdSigBlack]], '#111', 2, [1.5, 2]),
        line([[0, psdSigGreen], [700, psdSigGreen]], GREEN, 2, [1.5, 2])
      ]
    },
    options: {
      ...baseOpts({ left: 0, right: 23, top: 349, bottom: 998 - 648 }),
      scales: {
        x: { type: 'linear', min: 0, max: 700, display: false },
        y: yAxis(0, 38.1, psdTicks, 'PSD', 12)
      }
    },
    plugins: [makeFrame(specs)]
  };
}

function chiConfig(): any {
  const line = (arr: number[][], color: string, order: number) => ({
    data: pts(arr), showLine: true, pointRadius: 0, borderColor: color, borderWidth: 1.1, order
  });
  const specs: TickSpec[] = [
    { scale: 'x', side: 'bottom', values: periodTickVals, len: periodLen },
    { scale: 'x', side: 'top', values: periodTickVals, len: periodLen },
    ...yTickSpecs(135, 5, 20)
  ];
  return {
    type: 'scatter',
    data: { datasets: [line(chiBlack, '#111', 0), line(chiGreen, GREEN, 1)] },
    options: {
      ...baseOpts({ left: 0, right: 23, top: 648, bottom: 0 }),
      scales: {
        x: {
          type: 'linear', position: 'bottom', min: 0, max: 700,
          afterFit: (s: any) => { s.height = 50; },
          afterBuildTicks: (s: any) => { s.ticks = periodTicks.map(v => ({ value: v })); },
          grid: { display: false, drawTicks: false }, border: { display: false },
          ticks: { font: tickFont, color: '#000', padding: 5, autoSkip: false, maxRotation: 0, minRotation: 0, callback: (v: any) => String(v) },
          title: { display: true, text: 'Period [days]', font: { family: FONT, size: 17 }, color: '#000', padding: { top: 0, bottom: 5 } }
        },
        y: yAxis(0, 135.2, chiTicks, 'χ²', 8)
      }
    },
    plugins: [makeFrame(specs)]
  };
}

export default function App() {
  const r1 = useRef<HTMLCanvasElement>(null);
  const r2 = useRef<HTMLCanvasElement>(null);
  const r3 = useRef<HTMLCanvasElement>(null);
  useEffect(() => {
    const charts = [
      new Chart(r1.current as HTMLCanvasElement, topConfig()),
      new Chart(r2.current as HTMLCanvasElement, psdConfig()),
      new Chart(r3.current as HTMLCanvasElement, chiConfig())
    ];
    return () => charts.forEach(c => c.destroy());
  }, []);
  const st: React.CSSProperties = { position: 'absolute', left: 0, top: 0, width: 830, height: 998 };
  return (
    <div style={{ position: 'absolute', left: 0, top: 0, width: 830, height: 998, background: '#fff', overflow: 'hidden' }}>
      <canvas ref={r1} width={830} height={998} style={st} />
      <canvas ref={r2} width={830} height={998} style={st} />
      <canvas ref={r3} width={830} height={998} style={st} />
    </div>
  );
}
